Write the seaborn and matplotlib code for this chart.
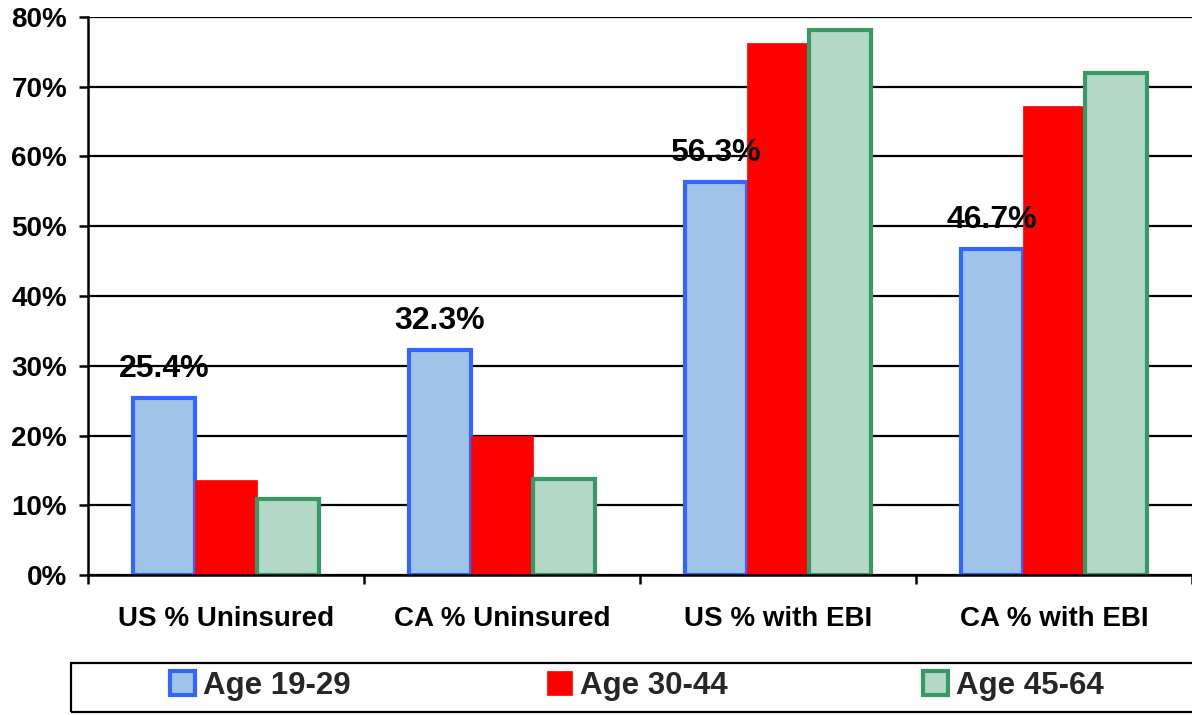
import matplotlib
matplotlib.use("Agg")
import matplotlib.pyplot as plt
import matplotlib.patches as mpatches
from matplotlib.ticker import FuncFormatter
import seaborn as sns
import pandas as pd

# Share of adults by age group, uninsured / with employer-based insurance (EBI)
categories = ["US % Uninsured", "CA % Uninsured", "US % with EBI", "CA % with EBI"]
age_groups = ["Age 19-29", "Age 30-44", "Age 45-64"]
age_19_29 = [25.4, 32.3, 56.3, 46.7]
age_30_44 = [13.6, 20.0, 76.3, 67.2]
age_45_64 = [10.9, 13.8, 78.1, 72.0]
y_ticks = [0, 10, 20, 30, 40, 50, 60, 70, 80]

fill_colors = ["#A0C4E8", "#FF0000", "#B3D8C5"]
edge_colors = ["#3366FF", "#FF0000", "#379966"]
edge_widths = [3.0, 0.5, 3.0]

df = pd.DataFrame({
    "category": categories * 3,
    "group": [g for g in age_groups for _ in categories],
    "value": age_19_29 + age_30_44 + age_45_64,
})

sns.set_theme(style="white")
plt.rcParams["font.family"] = ["Liberation Sans", "DejaVu Sans"]
plt.rcParams["font.weight"] = "bold"

W, H = 1192, 715
fig = plt.figure(figsize=(W / 100, H / 100), dpi=100)
ax = fig.add_axes([88 / W, 1 - 575 / H, 1 - 88 / W, (575 - 17) / H])

sns.barplot(
    data=df, x="category", y="value", hue="group",
    order=categories, hue_order=age_groups,
    palette=fill_colors, saturation=1, width=0.677,
    legend=False, ax=ax, zorder=2,
)

for container, ec, lw in zip(ax.containers, edge_colors, edge_widths):
    for patch in container:
        patch.set_edgecolor(ec)
        patch.set_linewidth(lw)

# value labels above the youngest age group
ax.bar_label(
    ax.containers[0], labels=[f"{v:.1f}%" for v in age_19_29],
    padding=10, fontsize=23, fontweight="bold", color="black", zorder=6,
)

ax.set_xlim(-0.5, 3.5)
ax.set_ylim(0, 80)
ax.set_yticks(y_ticks)
ax.yaxis.set_major_formatter(FuncFormatter(lambda v, _: f"{v:.0f}%"))
ax.set_xticks(range(len(categories)), categories)
ax.set_xticks([i - 0.5 for i in range(len(categories) + 1)], minor=True)
ax.set_xlabel("")
ax.set_ylabel("")

ax.yaxis.grid(True, color="black", linewidth=1.6)
ax.xaxis.grid(False)
ax.set_axisbelow(True)

for side in ("top", "right"):
    ax.spines[side].set_visible(False)
for side in ("left", "bottom"):
    ax.spines[side].set_color("black")
    ax.spines[side].set_linewidth(1.8)

ax.tick_params(axis="y", left=True, length=6.5, width=1.8, color="black",
               pad=8.5, labelsize=20, labelcolor="black")
ax.tick_params(axis="x", which="major", bottom=True, length=0, pad=22,
               labelsize=20, labelcolor="black")
ax.tick_params(axis="x", which="minor", bottom=True, length=6.5, width=1.8,
               color="black", direction="out")
for lbl in ax.get_xticklabels() + ax.get_yticklabels():
    lbl.set_fontweight("bold")

# legend frame spanning the bottom of the figure
fig.patches.append(mpatches.Rectangle(
    (71 / W, 1 - 712 / H), (1200 - 71) / W, (712 - 663) / H,
    transform=fig.transFigure, fill=False, edgecolor="black", linewidth=1.6,
))

handles = [
    mpatches.Patch(facecolor=f, edgecolor=e, linewidth=lw, label=g)
    for f, e, lw, g in zip(fill_colors, edge_colors, edge_widths, age_groups)
]
fig.legend(
    handles=handles, loc="center", bbox_to_anchor=(637 / W, 1 - 686 / H),
    ncol=3, frameon=False, prop={"size": 22.5, "weight": "bold"},
    handlelength=0.8, handleheight=0.8, handletextpad=0.25,
    columnspacing=6.27, borderpad=0,
)

fig.savefig("out.png", dpi=100)
